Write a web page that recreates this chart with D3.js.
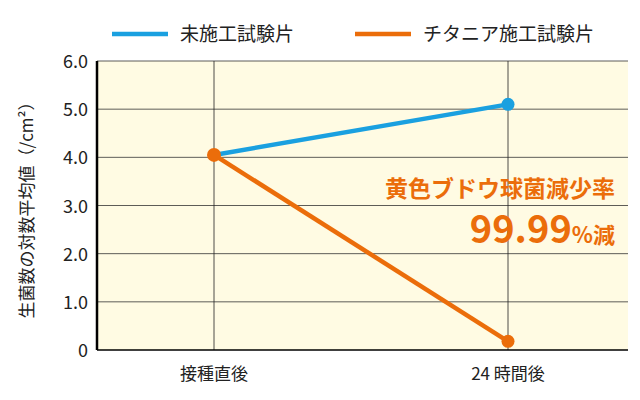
<!DOCTYPE html>
<html><head><meta charset="utf-8">
<script src="https://cdn.jsdelivr.net/npm/d3@7"></script>
<style>body{margin:0;background:#fff}text{font-family:"Noto Sans CJK JP","Noto Sans",sans-serif}</style>
</head><body><svg id="chart" width="640" height="400"></svg>
<script>
// data
const categories = ["接種直後", "24 時間後"];
const seriesNames = ["未施工試験片", "チタニア施工試験片"];
const untreated = [4.05, 5.1];
const titania = [4.05, 0.18];
const yTicks = [0, 1, 2, 3, 4, 5, 6];
const colors = ["#1aa0e0", "#eb6d0a"];

const svg = d3.select("#chart");
const pLeft = 97, pRight = 628, pTop = 61, pBottom = 350;

let x = d3.scalePoint().domain(categories).range([214, 508]);
let y = d3.scaleLinear().domain([0, 6]).range([pBottom, pTop]);

svg.append("rect").attr("x", pLeft).attr("y", pTop)
  .attr("width", pRight - pLeft).attr("height", pBottom - pTop).attr("fill", "#fffbe3");

// grid
svg.selectAll(".hg").data(yTicks.slice(1)).enter().append("line")
  .attr("x1", pLeft).attr("x2", pRight).attr("y1", d => y(d)).attr("y2", d => y(d))
  .attr("stroke", "#333").attr("stroke-width", 0.8);
svg.selectAll(".vg").data(categories).enter().append("line")
  .attr("x1", d => x(d)).attr("x2", d => x(d)).attr("y1", pTop).attr("y2", pBottom)
  .attr("stroke", "#222").attr("stroke-width", 0.8);

// axes
svg.append("line").attr("x1", pLeft).attr("x2", pLeft).attr("y1", pTop).attr("y2", pBottom)
  .attr("stroke", "#000").attr("stroke-width", 2.5);
svg.append("line").attr("x1", pLeft).attr("x2", pRight).attr("y1", pBottom).attr("y2", pBottom)
  .attr("stroke", "#000").attr("stroke-width", 1.5);

svg.selectAll(".yl").data(yTicks).enter().append("text")
  .attr("x", 88).attr("y", d => y(d) + 7).attr("text-anchor", "end")
  .attr("font-size", 18).attr("fill", "#222")
  .text(d => d === 0 ? "0" : d.toFixed(1));
svg.selectAll(".xl").data(categories).enter().append("text")
  .attr("x", d => x(d)).attr("y", 380).attr("text-anchor", "middle")
  .attr("font-size", 17).attr("fill", "#222").text(d => d);

svg.append("text").attr("transform", "translate(33,206) rotate(-90)")
  .attr("text-anchor", "middle").attr("font-size", 17).attr("fill", "#222")
  .text("生菌数の対数平均値（/cm²）");

// lines
[untreated, titania].forEach((vals, i) => {
  const line = d3.line().x((d, j) => x(categories[j])).y(d => y(d));
  svg.append("path").datum(vals).attr("d", line).attr("fill", "none")
    .attr("stroke", colors[i]).attr("stroke-width", 4.5);
});
svg.append("circle").attr("cx", x(categories[1])).attr("cy", y(untreated[1])).attr("r", 6.5).attr("fill", colors[0]);
svg.append("circle").attr("cx", x(categories[1])).attr("cy", y(titania[1])).attr("r", 6.5).attr("fill", colors[1]);
svg.append("circle").attr("cx", x(categories[0])).attr("cy", y(titania[0])).attr("r", 7).attr("fill", colors[1]);

// legend
const legX = [112, 355];
seriesNames.forEach((n, i) => {
  svg.append("line").attr("x1", legX[i]).attr("x2", legX[i] + 56).attr("y1", 34).attr("y2", 34)
    .attr("stroke", colors[i]).attr("stroke-width", 4.5);
  svg.append("text").attr("x", legX[i] + 68).attr("y", 41).attr("font-size", 19)
    .attr("fill", "#222").text(n);
});

// annotation
svg.append("text").attr("x", 615).attr("y", 197).attr("text-anchor", "end")
  .attr("font-size", 23).attr("font-weight", "bold").attr("fill", colors[1]).text("黄色ブドウ球菌減少率");
const ann = svg.append("text").attr("x", 615).attr("y", 243).attr("text-anchor", "end")
  .attr("font-weight", "bold").attr("fill", colors[1]);
ann.append("tspan").attr("font-size", 38).text("99.99");
ann.append("tspan").attr("font-size", 22).text("%減");
</script></body></html>
